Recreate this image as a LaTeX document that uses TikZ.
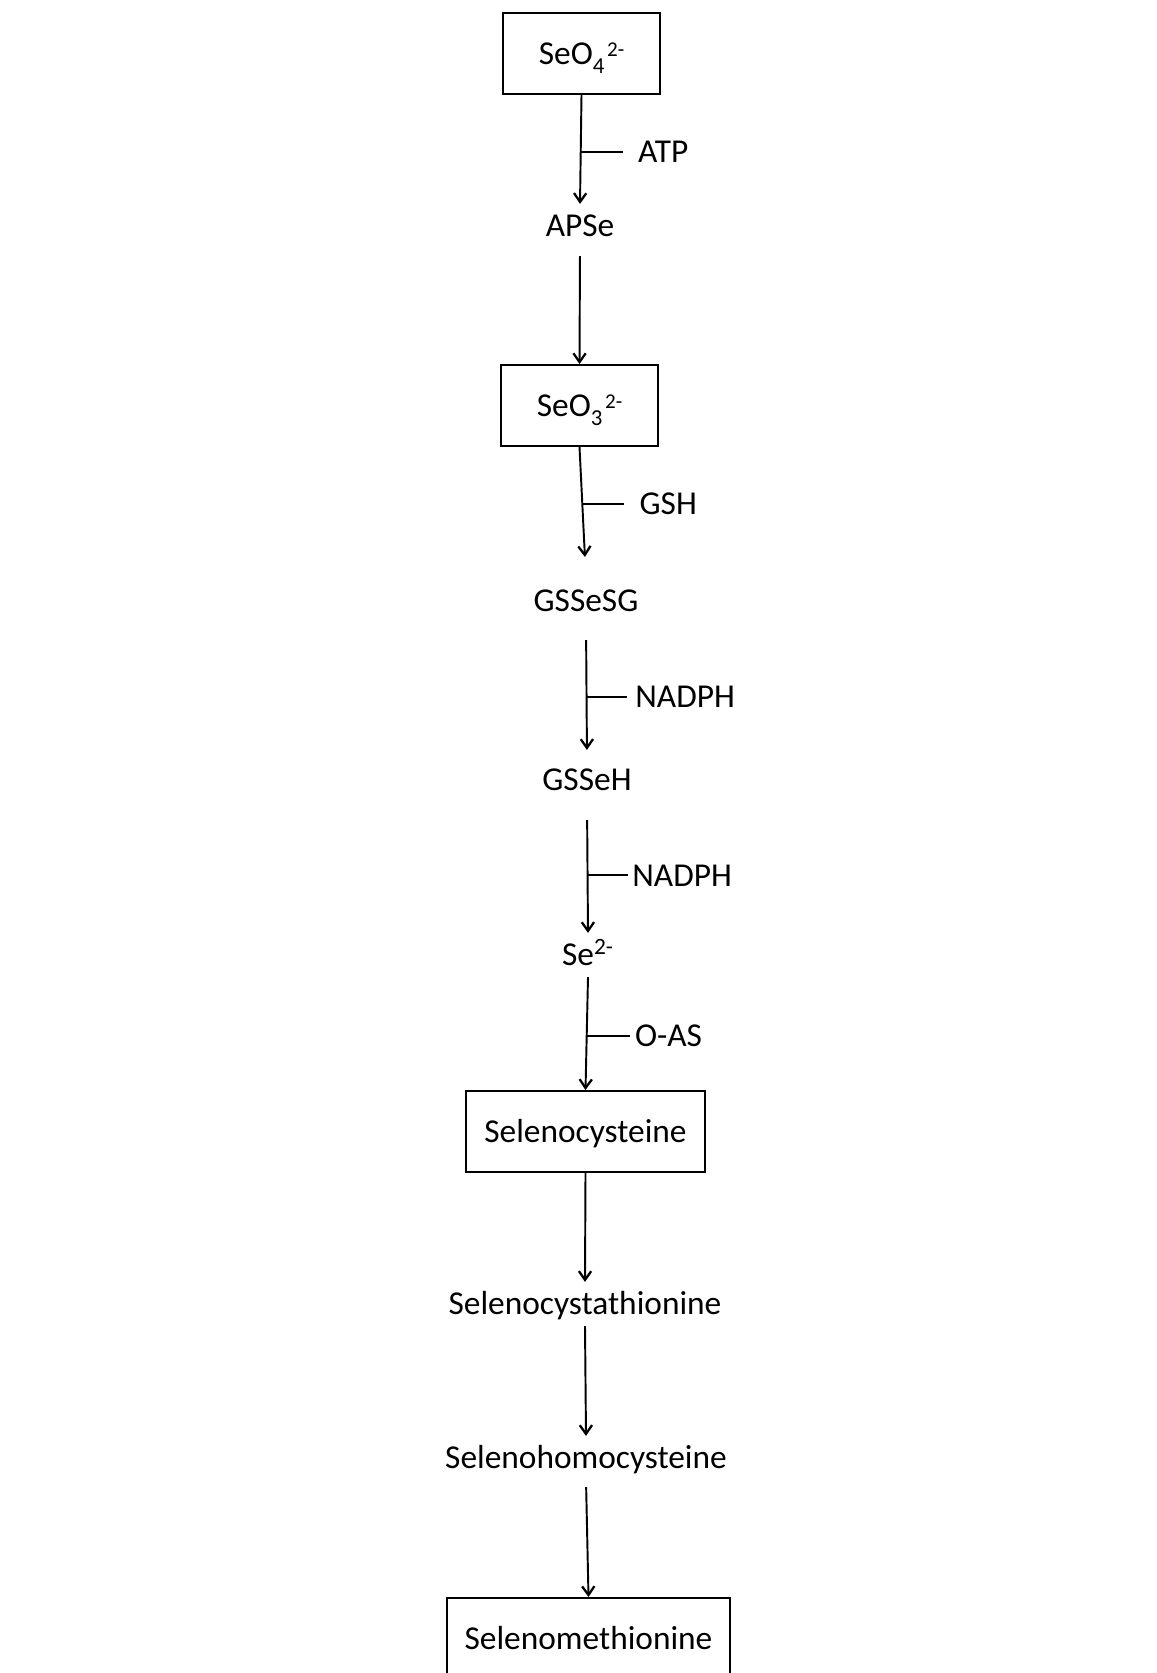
\documentclass[tikz,border=0pt]{standalone}
\usepackage{fontspec}
\setmainfont{Carlito}
\usepackage{tikz}
\usetikzlibrary{arrows.meta, positioning, calc}
\newcommand{\ionsub}[1]{\raisebox{-5pt}{\fontsize{13}{13}\selectfont #1}}
\newcommand{\ionsup}[1]{\kern1.5pt\raisebox{4.5pt}{\fontsize{12}{12}\selectfont #1}}

\begin{document}
\begin{tikzpicture}[
  x=0.02cm, y=-0.02cm,
  font=\fontsize{19}{23}\selectfont,
  compound/.style={inner xsep=2pt, inner ysep=0.1cm, text height=0.55cm, text depth=0.12cm},
  sebox/.style={draw, line width=1.1pt, minimum width=3.14cm, minimum height=1.62cm, text height=0.55cm, text depth=0.12cm},
  cofactor/.style={inner sep=0pt, text height=0.55cm, text depth=0.12cm},
  conv/.style={line width=1.1pt, -{Straight Barb[length=5pt,width=7pt,line width=1.3pt]}},
  sidetick/.style={line width=1.1pt}
]
  \useasboundingbox (0,0) rectangle (1156,1673);

  \node[sebox] (seofour) at (581.5,53.5) {SeO\ionsub{4}\ionsup{2-}};
  \node[compound] (apse) at (580,226) {APSe};
  \node[sebox] (seothree) at (579.5,405.5) {SeO\ionsub{3}\ionsup{2-}};
  \node[compound] (gssesg) at (586,601) {GSSeSG};
  \node[compound] (gsseh) at (587,780) {GSSeH};
  \node[compound] (sedi) at (588,955) {Se\textsuperscript{2-}};
  \node[sebox, minimum width=4.78cm] (secys) at (585.5,1131.5) {Selenocysteine};
  \node[compound] (secysta) at (585,1304) {Selenocystathionine};
  \node[compound] (sehcys) at (586,1458) {Selenohomocysteine};
  \node[sebox, minimum width=5.66cm] (semet) at (588.5,1638.5) {Selenomethionine};

  \draw[conv] (seofour.south) -- coordinate[pos=0.52] (tatp) (apse.north);
  \draw[conv, shorten <=0.16cm] (apse.south) -- (seothree.north);
  \draw[conv, shorten >=0.44cm] (seothree.south) -- coordinate[pos=0.43] (tgsh) (gssesg.north);
  \draw[conv, shorten <=0.34cm, shorten >=0.16cm] (gssesg.south) -- coordinate[pos=0.55] (tnadph) (gsseh.north);
  \draw[conv, shorten <=0.36cm] (gsseh.south) -- coordinate[pos=0.56] (tnadphb) (sedi.north);
  \draw[conv] (sedi.south) -- coordinate[pos=0.52] (toas) (secys.north);
  \draw[conv] (secys.south) -- (secysta.north);
  \draw[conv] (secysta.south) -- (sehcys.north);
  \draw[conv, shorten <=0.14cm] (sehcys.south) -- (semet.north);

  \node[cofactor, right=1.14cm of tatp] (atp) {ATP};
  \node[cofactor, right=1.14cm of tgsh] (gsh) {GSH};
  \node[cofactor, right=0.97cm of tnadph] (nadph) {NADPH};
  \node[cofactor, right=0.89cm of tnadphb] (nadphb) {NADPH};
  \node[cofactor, right=0.96cm of toas] (oas) {O-AS};

  \draw[sidetick, shorten >=0.3cm] (tatp) -- (atp.west);
  \draw[sidetick, shorten >=0.3cm] (tgsh) -- (gsh.west);
  \draw[sidetick, shorten >=0.16cm] (tnadph) -- (nadph.west);
  \draw[sidetick, shorten >=0.08cm] (tnadphb) -- (nadphb.west);
  \draw[sidetick, shorten >=0.1cm] (toas) -- (oas.west);
\end{tikzpicture}
\end{document}
